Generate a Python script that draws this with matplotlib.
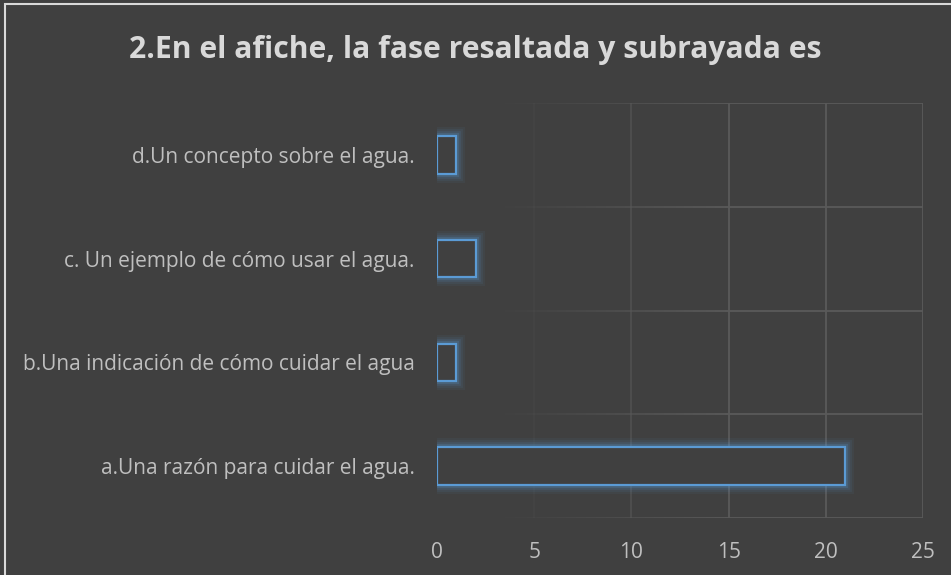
import numpy as np
import matplotlib
matplotlib.use("Agg")
import matplotlib.pyplot as plt
from matplotlib.collections import LineCollection
from matplotlib.patches import Rectangle

# data
categories = ["a.Una razón para cuidar el agua.",
              "b.Una indicación de cómo cuidar el agua",
              "c. Un ejemplo de cómo usar el agua.",
              "d.Un concepto sobre el agua."]
values = [21, 1, 2, 1]
xticks = [0, 5, 10, 15, 20, 25]
title = "2.En el afiche, la fase resaltada y subrayada es"

bg = "#404040"
txt = "#bfbfbf"
blue = "#5b9bd5"
grid = "#5a5a5a"

plt.rcParams["font.family"] = ["Open Sans", "DejaVu Sans"]

fig = plt.figure(figsize=(9.51, 5.75), dpi=100, facecolor=bg)
# light border of the chart area
fig.patches.append(Rectangle((5 / 951, -0.1), 1.2, 1 - 4 / 575 + 0.1,
                             transform=fig.transFigure, facecolor="none",
                             edgecolor="#d9d9d9", linewidth=1.5))

ax = fig.add_axes([437 / 951, 1 - 518 / 575, (923 - 437) / 951, (518 - 103) / 575])
ax.set_facecolor(bg)
ax.set_xlim(0, 25)
ax.set_ylim(-0.5, len(categories) - 0.5)

# faded grid lines (stronger to the right)
xs = np.linspace(0, 25, 200)
segs, cols = [], []
for yb in np.arange(-0.5, len(categories), 1.0):
    for i in range(len(xs) - 1):
        segs.append([(xs[i], yb), (xs[i + 1], yb)])
        cols.append(min(1.0, max(0.0, (xs[i] - 3) / 12)))
for xv in xticks[1:]:
    a = min(1.0, max(0.0, (xv - 3) / 12))
    segs.append([(xv, -0.5), (xv, len(categories) - 0.5)])
    cols.append(a)
rgb = matplotlib.colors.to_rgb(grid)
lc = LineCollection(segs, colors=[(rgb[0], rgb[1], rgb[2], c) for c in cols],
                    linewidths=1.3, zorder=1)
ax.add_collection(lc)

y = np.arange(len(categories))
h = 0.36
# glow
for lw, al in [(13, 0.06), (10, 0.08), (7, 0.12), (4.5, 0.2)]:
    ax.barh(y, values, height=h, facecolor="none", edgecolor=blue,
            linewidth=lw, alpha=al, zorder=2)
ax.barh(y, values, height=h, facecolor=bg, edgecolor=blue, linewidth=1.6, zorder=3)

for s in ax.spines.values():
    s.set_visible(False)
ax.set_xticks(xticks)
ax.set_yticks(y)
ax.set_yticklabels(categories)
ax.tick_params(axis="both", length=0, colors=txt, labelsize=15)
ax.tick_params(axis="x", pad=17)
ax.tick_params(axis="y", pad=16)

fig.text(0.5, 1 - 50 / 575, title, ha="center", va="center",
         color="#d9d9d9", fontsize=21.7, fontweight="bold")

fig.savefig("out.png", dpi=100, facecolor=bg)
